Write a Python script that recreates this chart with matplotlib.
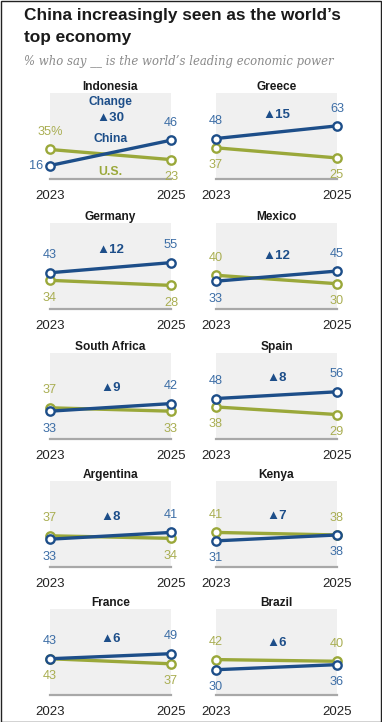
import matplotlib
matplotlib.use('Agg')
import matplotlib.pyplot as plt
from matplotlib.patches import Rectangle

# ---------------- data ----------------
countries = ['Indonesia', 'Greece', 'Germany', 'Mexico', 'South Africa',
             'Spain', 'Argentina', 'Kenya', 'France', 'Brazil']
years = [2023, 2025]
year_labels = ['2023', '2025']
china_2023 = [16, 48, 43, 33, 33, 48, 33, 31, 43, 30]
china_2025 = [46, 63, 55, 45, 42, 56, 41, 38, 49, 36]
us_2023 = [35, 37, 34, 40, 37, 38, 37, 41, 43, 42]
us_2025 = [23, 25, 28, 30, 33, 29, 34, 38, 37, 40]

title_lines = ["China increasingly seen as the world\u2019s", "top economy"]
subtitle = "% who say __ is the world\u2019s leading economic power"

# ---------------- style ----------------
C_LINE = '#1d4e89'
C_LAB = '#3d6ea6'
U_LINE = '#9aa83a'
U_LAB = '#a9ae52'
BG = '#f0f0f0'
FONT = 'Liberation Sans'
plt.rcParams['font.family'] = [FONT, 'DejaVu Sans']

W, H = 382, 722
fig = plt.figure(figsize=(W / 100, H / 100), dpi=100)
fig.patch.set_facecolor('white')

def fx(px):
    return px / W

def fy(py):
    return 1 - py / H

fig.patches.append(Rectangle((0.5 / W, 0.5 / H), 1 - 1.5 / W, 1 - 1.5 / H,
                             transform=fig.transFigure, fill=False,
                             edgecolor='#222222', linewidth=1.0))

for j, line in enumerate(title_lines):
    fig.text(fx(24), fy(20 + 22 * j), line, ha='left', va='baseline',
             fontsize=12.4, fontweight='bold', color='#1a1a1a')
fig.text(fx(24), fy(62), subtitle, ha='left', va='center', fontsize=8.4,
         style='italic', family='DejaVu Serif', color='#8a8a8a')

col_x = [50, 216]
pw = 121
row_tops = [93, 223, 353, 481, 609]
ph = 86
VFS = 9.2

for i, name in enumerate(countries):
    r, c = divmod(i, 2)
    x0 = col_x[c]
    top = row_tops[r]
    ax = fig.add_axes([fx(x0), fy(top + ph), fx(pw), ph / H])
    ax.set_facecolor(BG)
    ax.set_xlim(years[0], years[1])
    ax.set_ylim(0, 102)
    for s in ['top', 'left', 'right']:
        ax.spines[s].set_visible(False)
    ax.spines['bottom'].set_color('#a8a8a8')
    ax.spines['bottom'].set_linewidth(1.6)
    ax.set_yticks([])
    ax.set_xticks(years)
    ax.set_xticklabels(year_labels)
    ax.tick_params(axis='x', length=0, pad=8, labelsize=9.5, labelcolor='#222222')
    ax.set_title(name, fontsize=8.6, fontweight='bold', pad=2.5, color='#1a1a1a')

    cv = [china_2023[i], china_2025[i]]
    uv = [us_2023[i], us_2025[i]]
    ax.plot(years, uv, color=U_LINE, lw=2.4, marker='o', ms=6, mfc='white',
            mec=U_LINE, mew=1.7, clip_on=False, zorder=3)
    ax.plot(years, cv, color=C_LINE, lw=2.4, marker='o', ms=6, mfc='white',
            mec=C_LINE, mew=1.7, clip_on=False, zorder=4)

    uppers = []
    for k in range(2):
        c_val, u_val = cv[k], uv[k]
        if c_val != u_val:
            china_up = c_val > u_val
        else:
            o = 1 - k
            china_up = cv[o] > uv[o]
        uppers.append(max(c_val, u_val))
        ulab = f'{u_val}%' if (i == 0 and k == 0) else f'{u_val}'
        for val, lab, col, up in [(c_val, f'{c_val}', C_LAB, china_up),
                                  (u_val, ulab, U_LAB, not china_up)]:
            if i == 0 and k == 0 and col == C_LAB:
                ax.annotate(lab, (years[k], val), xytext=(-5, 0),
                            textcoords='offset points', ha='right',
                            va='center', fontsize=VFS, color=col,
                            annotation_clip=False)
                continue
            dy = 12.5 if up else -12.5
            ax.annotate(lab, (years[k], val), xytext=(0, dy),
                        textcoords='offset points', ha='center', va='center',
                        fontsize=VFS, color=col, annotation_clip=False)

    change = china_2025[i] - china_2023[i]
    chg = f'\u25B2{change}'
    if i == 0:
        ax.text(0.5, 0.895, 'Change', transform=ax.transAxes, ha='center',
                va='center', fontsize=8.6, fontweight='bold', color=C_LINE)
        ax.text(0.5, 0.715, chg, transform=ax.transAxes, ha='center',
                va='center', fontsize=9.5, fontweight='bold', color=C_LINE)
        ax.text(0.5, 0.465, 'China', transform=ax.transAxes, ha='center',
                va='center', fontsize=8.8, fontweight='bold', color=C_LINE)
        ax.text(0.5, 0.085, 'U.S.', transform=ax.transAxes, ha='center',
                va='center', fontsize=8.8, fontweight='bold', color=U_LINE)
    else:
        ax.annotate(chg, ((years[0] + years[1]) / 2, sum(uppers) / 2),
                    xytext=(0, 12.5), textcoords='offset points',
                    ha='center', va='center', fontsize=9.5,
                    fontweight='bold', color=C_LINE)

fig.savefig('out.png', dpi=100, facecolor='white')
